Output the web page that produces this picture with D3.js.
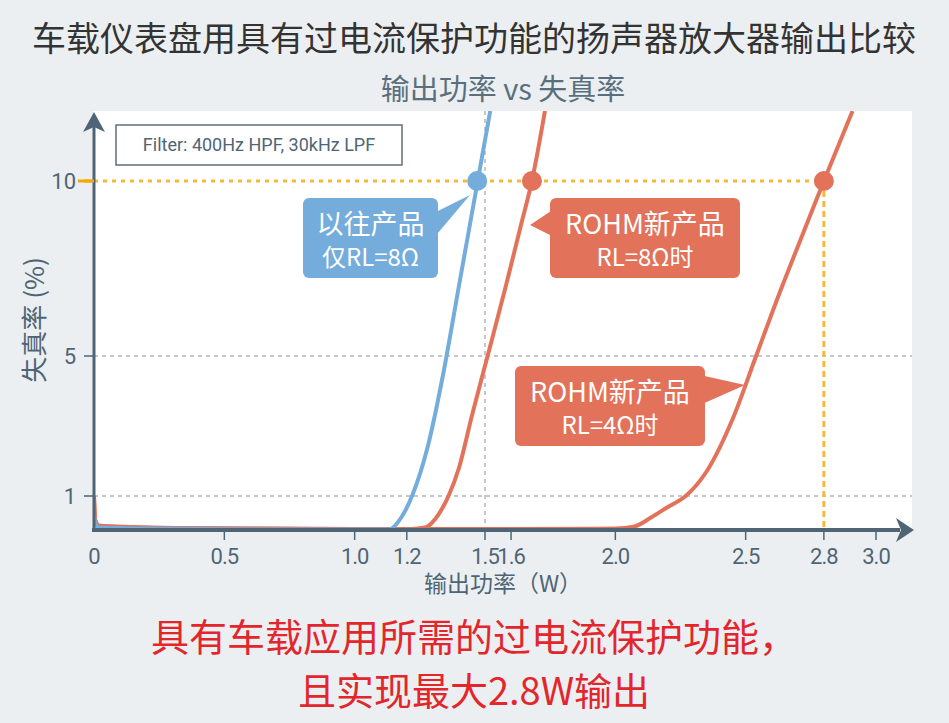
<!DOCTYPE html>
<html><head><meta charset="utf-8">
<script src="https://cdn.jsdelivr.net/npm/d3@7"></script>
<style>body{margin:0;background:#eceff1}svg{display:block;font-family:"Noto Sans CJK SC","Noto Sans",sans-serif}</style>
</head><body><svg id="c" width="949" height="723"></svg>
<script>
const xTicks=[0,0.5,1.0,1.2,1.5,1.6,2.0,2.5,2.8,3.0];
const yTicks=[1,5,10];
const oldP=[0,0.005,0.02,0.2,0.6,1.0,1.13,1.18,1.22,1.28,1.34,1.40,1.46,1.52];
const oldD=[0.45,0.2,0.1,0.07,0.05,0.04,0.04,0.4,1.0,2.4,4.5,7.0,9.5,12.0];
const new8P=[0,0.005,0.02,0.2,0.6,1.0,1.2,1.27,1.31,1.34,1.36,1.40,1.45,1.51,1.58,1.64,1.68,1.73];
const new8D=[1.0,0.3,0.15,0.1,0.07,0.05,0.05,0.1,0.35,0.7,1.0,1.8,3.3,5.0,7.0,8.8,10.0,12.0];
const new4P=[0,0.005,0.02,0.2,0.6,1.0,1.6,2.0,2.07,2.14,2.20,2.27,2.35,2.45,2.54,2.63,2.72,2.80,2.91];
const new4D=[1.0,0.3,0.15,0.1,0.07,0.06,0.06,0.07,0.12,0.4,0.68,1.0,1.7,3.2,5.0,6.8,8.5,10.0,12.0];
const marks=[{p:1.47,c:"#74acdb"},{p:1.68,c:"#e2725a"},{p:2.8,c:"#e2725a"}];

const svg=d3.select("#c");
const x=d3.scaleLinear().domain([0,3]).range([94,876]);
const y=d3.scaleLinear().domain([0,12]).range([531,111]);
svg.append("rect").attr("x",93).attr("y",111).attr("width",819).attr("height",418).attr("fill","#fff");
svg.append("text").attr("x",474).attr("y",51).attr("text-anchor","middle").attr("font-size",34).attr("fill","#333").text("车载仪表盘用具有过电流保护功能的扬声器放大器输出比较");
svg.append("text").attr("x",503).attr("y",100).attr("text-anchor","middle").attr("font-size",29).attr("fill","#5a6f7e").text("输出功率 vs 失真率");
// grid
yTicks.filter(v=>v<10).forEach(v=>svg.append("line").attr("x1",94).attr("x2",912).attr("y1",y(v)).attr("y2",y(v)).attr("stroke","#8a8f94").attr("stroke-dasharray","4,4"));
svg.append("line").attr("x1",x(1.5)).attr("x2",x(1.5)).attr("y1",111).attr("y2",529).attr("stroke","#8a8f94").attr("stroke-dasharray","4,4");
svg.append("line").attr("x1",94).attr("x2",x(2.8)).attr("y1",y(10)).attr("y2",y(10)).attr("stroke","#f8b73a").attr("stroke-width",3).attr("stroke-dasharray","4,5");
svg.append("line").attr("x1",x(2.8)).attr("x2",x(2.8)).attr("y1",y(10)).attr("y2",529).attr("stroke","#f8b73a").attr("stroke-width",3).attr("stroke-dasharray","6,4");
svg.append("line").attr("x1",78).attr("x2",94).attr("y1",y(10)).attr("y2",y(10)).attr("stroke","#f5a800").attr("stroke-width",3);
// curves
svg.append("clipPath").attr("id","cp").append("rect").attr("x",93).attr("y",111).attr("width",819).attr("height",420);
const line=d3.line().x(d=>x(d[0])).y(d=>y(d[1])).curve(d3.curveMonotoneX);
const g=svg.append("g").attr("clip-path","url(#cp)");
g.append("path").attr("d",line(new4P.map((p,i)=>[p,new4D[i]]))).attr("fill","none").attr("stroke","#e2725a").attr("stroke-width",4);
g.append("path").attr("d",line(new8P.map((p,i)=>[p,new8D[i]]))).attr("fill","none").attr("stroke","#e2725a").attr("stroke-width",4);
g.append("path").attr("d",line(oldP.map((p,i)=>[p,oldD[i]]))).attr("fill","none").attr("stroke","#74acdb").attr("stroke-width",4);
marks.forEach(m=>svg.append("circle").attr("cx",x(m.p)).attr("cy",y(10)).attr("r",10).attr("fill",m.c));
// axes
const ac="#4f6575";
svg.append("line").attr("x1",94).attr("x2",94).attr("y1",531).attr("y2",125).attr("stroke",ac).attr("stroke-width",3);
svg.append("path").attr("d","M94,112 L83,132 L94,127 L105,132 Z").attr("fill",ac);
svg.append("line").attr("x1",92).attr("x2",900).attr("y1",530).attr("y2",530).attr("stroke",ac).attr("stroke-width",4);
svg.append("path").attr("d","M914,530 L896,518 L901,530 L896,542 Z").attr("fill",ac);
xTicks.forEach(v=>{
 if(v>0) svg.append("line").attr("x1",x(v)).attr("x2",x(v)).attr("y1",530).attr("y2",540).attr("stroke",ac).attr("stroke-width",1.5);
 svg.append("text").attr("x",x(v)).attr("y",564).attr("text-anchor","middle").attr("font-size",22).attr("fill","#4f6575").attr("font-family","Roboto, sans-serif").attr("letter-spacing","-1").text(v===0?"0":v.toFixed(1));
});
yTicks.forEach(v=>{
 svg.append("line").attr("x1",84).attr("x2",94).attr("y1",y(v)).attr("y2",y(v)).attr("stroke",v===10?"#f5a800":ac).attr("stroke-width",v===10?3:1.5);
 svg.append("text").attr("x",76).attr("y",y(v)+8).attr("text-anchor","end").attr("font-size",22).attr("fill","#4f6575").attr("font-family","Roboto, sans-serif").text(v);
});
svg.append("text").attr("transform","translate(44,320) rotate(-90)").attr("text-anchor","middle").attr("font-size",26).attr("fill","#4f6575").text("失真率 (%)");
svg.append("text").attr("x",503).attr("y",592).attr("text-anchor","middle").attr("font-size",23).attr("fill","#4f6575").text("输出功率（W）");
// filter box
svg.append("rect").attr("x",116).attr("y",125).attr("width",286).attr("height",40).attr("fill","#fff").attr("stroke","#5f6f7a").attr("stroke-width",1.5);
svg.append("text").attr("x",259).attr("y",151).attr("text-anchor","middle").attr("font-size",18).attr("fill","#4f6575").attr("font-family","Roboto, sans-serif").text("Filter: 400Hz HPF, 30kHz LPF");
// callouts
function callout(bx,by,w,h,ptr,col,l1,l2){
 svg.append("path").attr("d",ptr).attr("fill",col);
 svg.append("rect").attr("x",bx).attr("y",by).attr("width",w).attr("height",h).attr("rx",6).attr("fill",col);
 svg.append("text").attr("x",bx+w/2).attr("y",by+36).attr("text-anchor","middle").attr("font-size",27).attr("fill","#fff").text(l1);
 svg.append("text").attr("x",bx+w/2).attr("y",by+68).attr("text-anchor","middle").attr("font-size",24).attr("fill","#fff").text(l2);
}
callout(303,198,135,80,"M430,215 L470,195 L432,240 Z","#74acdb","以往产品","仅RL=8Ω");
callout(550,198,190,80,"M560,205 L530,225 L560,240 Z","#e2725a","ROHM新产品","RL=8Ω时");
callout(515,366,190,80,"M700,375 L745,385 L700,405 Z","#e2725a","ROHM新产品","RL=4Ω时");
// bottom text
svg.append("text").attr("x",474).attr("y",651).attr("text-anchor","middle").attr("font-size",38).attr("fill","#e3262c").text("具有车载应用所需的过电流保护功能，");
svg.append("text").attr("x",474).attr("y",705).attr("text-anchor","middle").attr("font-size",38).attr("fill","#e3262c").text("且实现最大2.8W输出");
</script></body></html>
